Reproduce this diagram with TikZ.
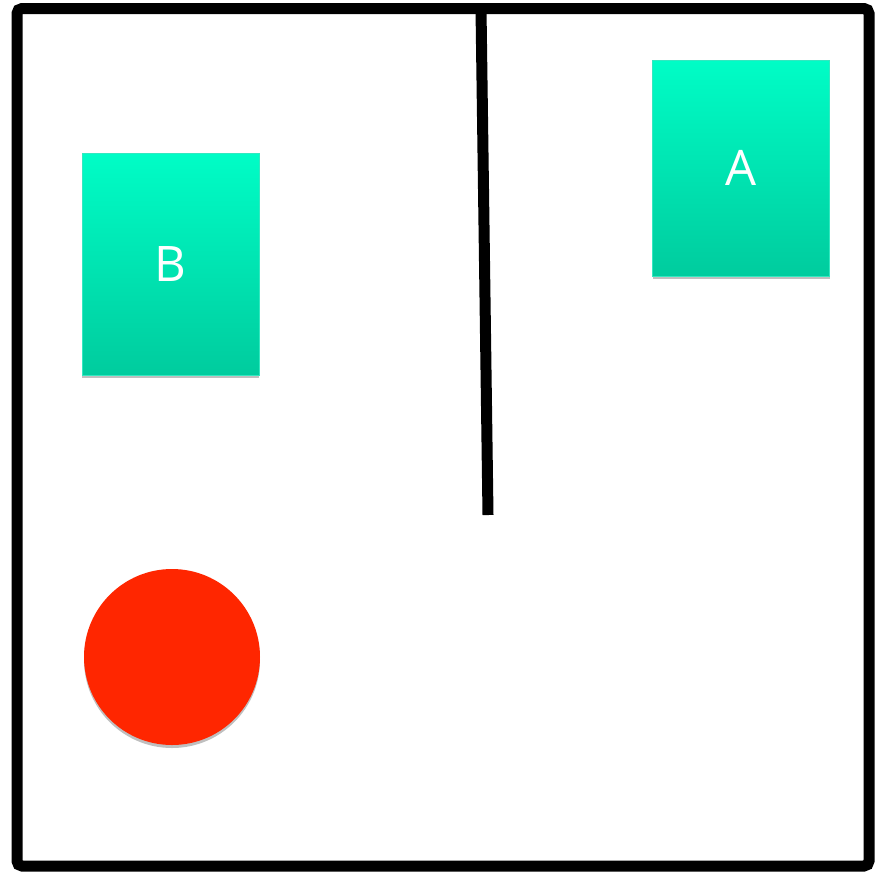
\documentclass[tikz,border=0pt]{standalone}
\usepackage{fontspec}
\setmainfont{Open Sans}
\usetikzlibrary{shadows}
\definecolor{tealtop}{HTML}{00FDC6}
\definecolor{tealbot}{HTML}{00CC9E}
\definecolor{tealedge}{HTML}{33E8C0}
\definecolor{ballred}{HTML}{FF2600}
\tikzset{
  box/.style={draw=tealedge, line width=1pt, top color=tealtop, bottom color=tealbot,
    minimum width=177pt, text=white, font=\fontsize{49}{49}\selectfont,
    drop shadow={shadow xshift=0pt, shadow yshift=-3pt, opacity=0.25, fill=black}},
  ball/.style={circle, fill=ballred, minimum size=176pt, inner sep=0pt,
    drop shadow={shadow xshift=0pt, shadow yshift=-3pt, opacity=0.25, fill=black}},
  wall/.style={line width=11pt, black}
}
\begin{document}
\begin{tikzpicture}[x=1pt,y=-1pt]
\useasboundingbox (0,0) rectangle (875,871);
\draw[wall, rounded corners=5pt] (17,8.5) rectangle (869,866);
\coordinate (wtop) at (481,8.5);
\coordinate (wbot) at (488,515);
\draw[wall] (wtop) -- (wbot);
\node[box, minimum height=216pt] (A) at (741,168) {A};
\node[box, minimum height=222pt] (B) at (170.5,264) {B};
\node[ball] (ball) at (172,657) {};
\end{tikzpicture}
\end{document}
